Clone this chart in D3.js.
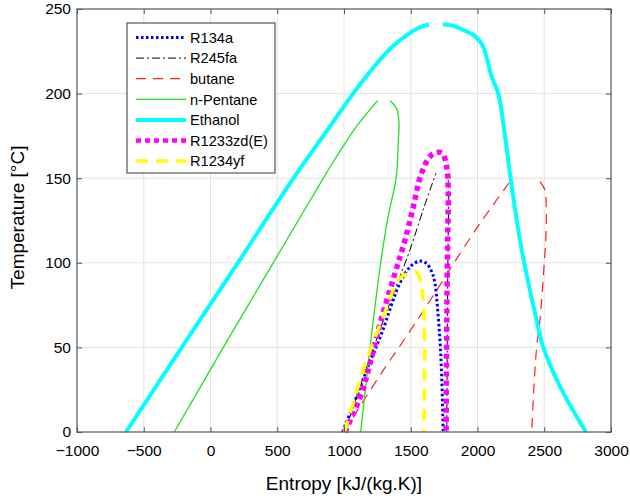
<!DOCTYPE html>
<html>
<head>
<meta charset="utf-8">
<script src="https://cdn.jsdelivr.net/npm/d3@7"></script>
<style>
  body { margin: 0; background: #fff; }
  text { font-family: "Liberation Sans", Arial, sans-serif; fill: #000; }
</style>
</head>
<body>
<div class="chart"></div>
<script>
// saturation curves, [entropy, temperature]
const r134a = [[990, 0], [1100, 22], [1170, 36.6], [1282, 58.3], [1419, 88], [1500, 98], [1569, 101],
  [1620, 99.5], [1660, 94], [1681, 88], [1706, 68], [1722, 50], [1733, 30], [1740, 10], [1743, 0]];
const r245faLiq = [[1005, 0], [1100, 22], [1200, 45], [1300, 67], [1410, 90], [1494, 107.6], [1600, 133], [1689, 153]];
const r245faVap = [[1781, 149], [1785, 140], [1781, 120], [1777, 90], [1773, 50], [1770, 0]];
const butaneLiq = [[1000, 0], [1110, 14], [1290, 36], [1480, 58], [1680, 82], [1800, 97], [2025, 124], [2243, 148]];
const butaneVap = [[2468, 148], [2505, 143], [2515, 130], [2512, 115], [2500, 100], [2470, 68], [2443, 50], [2425, 30], [2406, 0]];
const pentaneLiq = [[-271, 0], [96, 50], [470, 100], [830, 148], [922, 160], [1003, 170], [1088, 180], [1158, 187],
  [1210, 192], [1252, 195.8]];
const pentaneVap = [[1344, 195.8], [1395, 191], [1412, 182], [1407, 172.6], [1390, 150], [1332, 128], [1289, 107.6],
  [1257, 90], [1195, 50], [1125, 0]];
const ethanolLiq = [[-633, 0], [-215, 50], [205, 100], [622, 150], [845, 175], [1068, 200], [1165, 210], [1270, 220],
  [1365, 228], [1460, 234], [1550, 238.5], [1636, 241]];
const ethanolVap = [[1739, 241], [1820, 240], [1894, 237.6], [1981, 234], [2035, 229], [2073, 220], [2106, 210],
  [2156, 200], [2206, 175], [2248, 150], [2318, 113.5], [2350, 100], [2443, 66], [2493, 50], [2630, 25], [2812, 0]];
const r1233zd = [[1007, 0], [1132, 23], [1195, 40.6], [1270, 64], [1382, 93.8], [1457, 113.5], [1519, 133], [1581, 153],
  [1656, 163.7], [1731, 165], [1769, 156.8], [1781, 143], [1778, 120], [1772, 84], [1768, 40], [1765, 0]];
const r1234yf = [[1005, 0], [1170, 42.6], [1294, 68], [1419, 91], [1500, 94], [1544, 94.5], [1575, 89], [1595, 75],
  [1605, 55], [1603, 25], [1598, 0]];

const fluidNames = ["R134a", "R245fa", "butane", "n-Pentane", "Ethanol", "R1233zd(E)", "R1234yf"];
const fluidCurves = [[r134a], [r245faLiq, r245faVap], [butaneLiq, butaneVap], [pentaneLiq, pentaneVap],
  [ethanolLiq, ethanolVap], [r1233zd], [r1234yf]];

const xTicks = [-1000, -500, 0, 500, 1000, 1500, 2000, 2500, 3000];
const yTicks = [0, 50, 100, 150, 200, 250];

const styles = [
  { color: "#0000ff", width: 3, dash: "2.5,2.5" },
  { color: "#000000", width: 1, dash: "8,3,2,3" },
  { color: "#ff2020", width: 1.2, dash: "10,7" },
  { color: "#22e022", width: 1.3, dash: null },
  { color: "#00ffff", width: 4, dash: null },
  { color: "#ff00ff", width: 5.5, dash: "5,4" },
  { color: "#ffff00", width: 3.5, dash: "12,8" }
];

const width = 630;
const height = 501;
const plotL = 77, plotR = 611, plotT = 9, plotB = 432;

const svg = d3.select(".chart")
  .append("svg")
  .attr("width", width)
  .attr("height", height);

const x = d3.scaleLinear().domain([-1000, 3000]).range([plotL, plotR]);
const y = d3.scaleLinear().domain([0, 250]).range([plotB, plotT]);

// grid
svg.append("g")
  .selectAll("line")
  .data(xTicks.slice(1, -1))
  .enter()
  .append("line")
  .attr("x1", d => x(d)).attr("x2", d => x(d))
  .attr("y1", plotT).attr("y2", plotB)
  .attr("stroke", "#e3e3e3");

svg.append("g")
  .selectAll("line")
  .data(yTicks.slice(1, -1))
  .enter()
  .append("line")
  .attr("x1", plotL).attr("x2", plotR)
  .attr("y1", d => y(d)).attr("y2", d => y(d))
  .attr("stroke", "#e3e3e3");

// curves
const line = d3.line()
  .x(d => x(d[0]))
  .y(d => y(d[1]))
  .curve(d3.curveCatmullRom.alpha(0.5));

fluidCurves.forEach((branches, i) => {
  const st = styles[i];
  branches.forEach(b => {
    svg.append("path")
      .attr("d", line(b))
      .attr("fill", "none")
      .attr("stroke", st.color)
      .attr("stroke-width", st.width)
      .attr("stroke-dasharray", st.dash);
  });
});

// axes with inward ticks
const axisColor = "#555";
svg.append("g")
  .attr("transform", `translate(0,${plotB})`)
  .call(d3.axisBottom(x).tickValues(xTicks).tickSize(-5).tickPadding(13).tickFormat(d3.format("d")));
svg.append("g")
  .attr("transform", `translate(${plotL},0)`)
  .call(d3.axisLeft(y).tickValues(yTicks).tickSize(-5).tickPadding(6));
svg.append("g")
  .attr("transform", `translate(0,${plotT})`)
  .call(d3.axisTop(x).tickValues(xTicks).tickSize(-5).tickFormat(""));
svg.append("g")
  .attr("transform", `translate(${plotR},0)`)
  .call(d3.axisRight(y).tickValues(yTicks).tickSize(-5).tickFormat(""));

svg.selectAll(".domain").remove();
svg.selectAll(".tick line").attr("stroke", axisColor);
svg.selectAll(".tick text")
  .style("font-size", "15.5px")
  .style("font-family", "'Liberation Sans', Arial, sans-serif")
  .attr("fill", "#000");

svg.append("rect")
  .attr("x", plotL).attr("y", plotT)
  .attr("width", plotR - plotL).attr("height", plotB - plotT)
  .attr("fill", "none")
  .attr("stroke", axisColor)
  .attr("stroke-width", 1.2);

// axis titles
svg.append("text")
  .attr("x", (plotL + plotR) / 2)
  .attr("y", 490)
  .attr("text-anchor", "middle")
  .style("font-size", "19px")
  .text("Entropy [kJ/(kg.K)]");

svg.append("text")
  .attr("transform", `translate(24,${(plotT + plotB) / 2 - 3}) rotate(-90)`)
  .attr("text-anchor", "middle")
  .style("font-size", "19px")
  .text("Temperature [°C]");

// legend
const legend = svg.append("g");
legend.append("rect")
  .attr("x", 127).attr("y", 23)
  .attr("width", 148).attr("height", 150)
  .attr("fill", "#fff")
  .attr("stroke", axisColor)
  .attr("stroke-width", 1.2);

const rows = legend.selectAll("g")
  .data(fluidNames)
  .enter()
  .append("g")
  .attr("transform", (d, i) => `translate(0,${37.5 + i * 20.6})`);

rows.append("line")
  .attr("x1", 136).attr("x2", 186)
  .attr("y1", 0).attr("y2", 0)
  .attr("stroke", (d, i) => styles[i].color)
  .attr("stroke-width", (d, i) => Math.min(styles[i].width, 4.5))
  .attr("stroke-dasharray", (d, i) => styles[i].dash);

rows.append("text")
  .attr("x", 190)
  .attr("y", 5.2)
  .style("font-size", "14.6px")
  .text(d => d);
</script>
</body>
</html>
